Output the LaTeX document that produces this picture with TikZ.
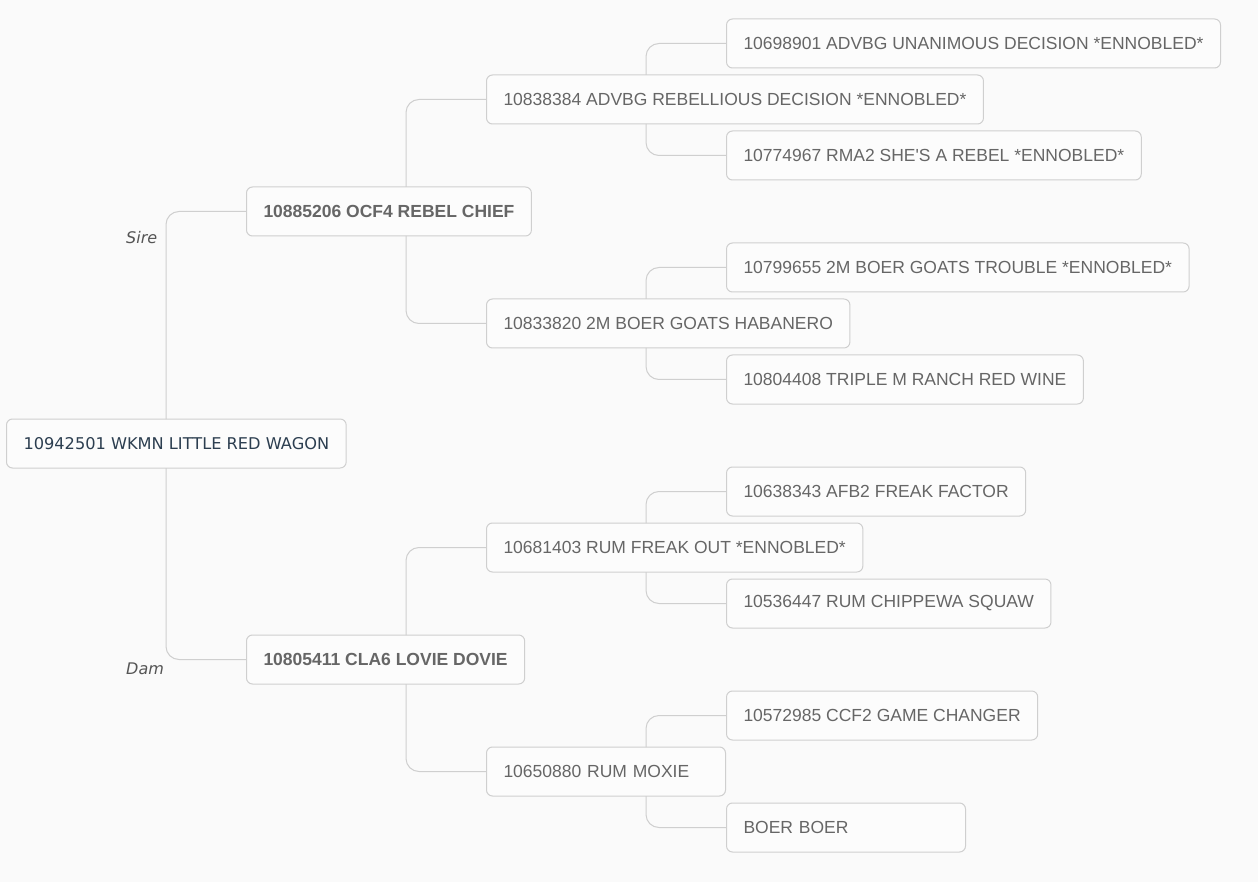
\documentclass[tikz,border=0pt]{standalone}
\usepackage{fontspec}
\setmainfont{Liberation Sans}
\newfontfamily\rootfont{DejaVu Sans}
\begin{document}
\begin{tikzpicture}[x=1pt,y=-1pt,
  bg/.style={fill=bgc},
  box/.style={draw=boxc, line width=1pt, fill=boxfill, rounded corners=6pt, anchor=west,
    inner xsep=17pt, inner ysep=0pt, minimum height=49pt, text=txtc,
    font=\fontsize{17.5}{20}\selectfont},
  narrow/.style={text width=205pt},
  bold/.style={font=\fontsize{17.5}{20}\selectfont\bfseries},
  rootbox/.style={box, text=rootc, font=\rootfont\fontsize{16.2}{19}\selectfont},
  conn/.style={draw=linec, line width=1pt, rounded corners=13pt},
  rel/.style={anchor=west, inner sep=0pt, text=relc, font=\rootfont\itshape\fontsize{16}{19}\selectfont}
]
\definecolor{bgc}{HTML}{FAFAFA}
\definecolor{boxfill}{HTML}{FCFCFC}
\definecolor{boxc}{HTML}{CFCFCF}
\definecolor{linec}{HTML}{CFCFCF}
\definecolor{txtc}{HTML}{666666}
\definecolor{rootc}{HTML}{2C3E50}
\definecolor{relc}{HTML}{555555}
\useasboundingbox[bg] (0,0) rectangle (1258,882);

% connector start points
\coordinate (rt) at (166,419);
\coordinate (rb) at (166,468);
\coordinate (st) at (406,187);
\coordinate (sb) at (406,236);
\coordinate (dt) at (406,635);
\coordinate (db) at (406,684);
\coordinate (at) at (646,75);
\coordinate (ab) at (646,124);
\coordinate (bt) at (646,299);
\coordinate (bb) at (646,348);
\coordinate (ct) at (646,523);
\coordinate (cb) at (646,572);
\coordinate (et) at (646,747);
\coordinate (eb) at (646,796);

% nodes
\node[rootbox] (root) at (6,443.5) {10942501 WKMN LITTLE RED WAGON};
\node[box,bold] (sire) at (246,211.5) {10885206 OCF4 REBEL CHIEF};
\node[box,bold] (dam) at (246,659.5) {10805411 CLA6 LOVIE DOVIE};

\node[box] (a) at (486,99.5) {10838384 ADVBG REBELLIOUS DECISION *ENNOBLED*};
\node[box] (b) at (486,323.5) {10833820 2M BOER GOATS HABANERO};
\node[box] (c) at (486,547.5) {10681403 RUM FREAK OUT *ENNOBLED*};
\node[box,narrow] (d) at (486,771.5) {10650880 RUM MOXIE};

\node[box] (a1) at (726,43.5) {10698901 ADVBG UNANIMOUS DECISION *ENNOBLED*};
\node[box] (a2) at (726,155.5) {10774967 RMA2 SHE\textquotesingle S A REBEL *ENNOBLED*};
\node[box] (b1) at (726,267.5) {10799655 2M BOER GOATS TROUBLE *ENNOBLED*};
\node[box] (b2) at (726,379.5) {10804408 TRIPLE M RANCH RED WINE};
\node[box] (c1) at (726,491.5) {10638343 AFB2 FREAK FACTOR};
\node[box] (c2) at (726,603.5) {10536447 RUM CHIPPEWA SQUAW};
\node[box] (d1) at (726,715.5) {10572985 CCF2 GAME CHANGER};
\node[box,narrow] (d2) at (726,827.5) {BOER BOER};

\node[rel] (sirelbl) at (126,237.5) {Sire};
\node[rel] (damlbl) at (126,669) {Dam};

\draw[conn] (rt) |- (sire.west);
\draw[conn] (rb) |- (dam.west);
\draw[conn] (st) |- (a.west);
\draw[conn] (sb) |- (b.west);
\draw[conn] (dt) |- (c.west);
\draw[conn] (db) |- (d.west);
\draw[conn] (at) |- (a1.west);
\draw[conn] (ab) |- (a2.west);
\draw[conn] (bt) |- (b1.west);
\draw[conn] (bb) |- (b2.west);
\draw[conn] (ct) |- (c1.west);
\draw[conn] (cb) |- (c2.west);
\draw[conn] (et) |- (d1.west);
\draw[conn] (eb) |- (d2.west);
\end{tikzpicture}
\end{document}
